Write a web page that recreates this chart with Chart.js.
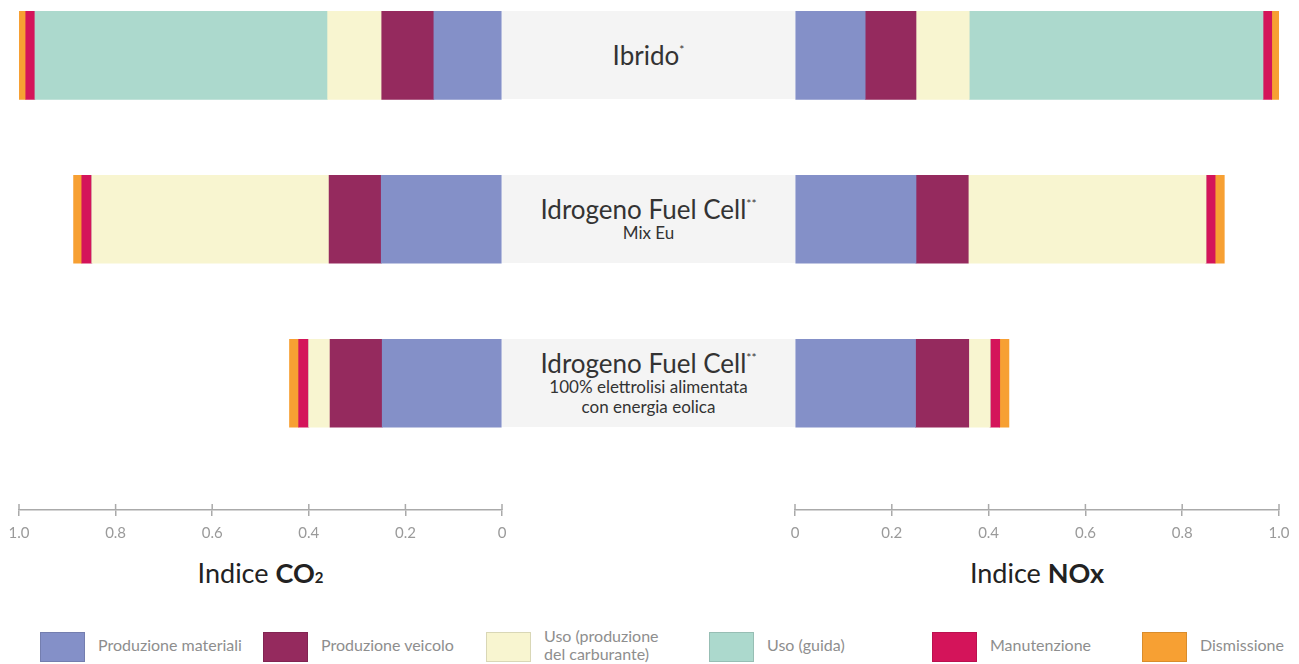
<!DOCTYPE html>
<html>
<head>
<meta charset="utf-8">
<script src="https://cdn.jsdelivr.net/npm/chart.js@4.4.0/dist/chart.umd.min.js"></script>
<style>
  body { margin: 0; width: 1299px; height: 664px; overflow: hidden; background: #fff; position: relative;
         font-family: Lato, 'Open Sans', sans-serif; }
  canvas { position: absolute; top: 0; }
  #co2 { left: 0; }
  #nox { left: 776px; }
  .box { position: absolute; left: 502px; width: 293px; height: 88px; background: #f4f4f4; color: #333;
         display: flex; flex-direction: column; justify-content: center; align-items: center; text-align: center; }
  .box .t { font-size: 26px; line-height: 28px; }
  .box .s { font-size: 17px; line-height: 20px; }
  .box sup { font-size: 12px; vertical-align: 11px; line-height: 0; }
  .axis-title { position: absolute; top: 557px; height: 32px; line-height: 32px; text-align: center;
                font-size: 27px; color: #222; }
  .axis-title b { font-weight: 700; }
  .axis-title .sub { font-size: 15px; font-weight: 700; }
  #legend { position: absolute; left: 40px; top: 632px; display: flex; }
  .item { width: 223px; height: 30px; display: flex; align-items: center; }
  .item:nth-child(5) { width: 210px; }
  .sw { width: 45px; height: 30px; box-sizing: border-box; border: 1px solid rgba(0,0,0,0.12); flex: none; }
  .lab { margin-left: 13px; font-size: 16px; line-height: 18px; color: #8e8e8e; white-space: pre-line;
         position: relative; top: -2px; }
</style>
</head>
<body>
<canvas id="co2" width="522" height="550"></canvas>
<canvas id="nox" width="523" height="550"></canvas>
<div class="axis-title" style="left:19px;width:483px">Indice <b>CO</b><span class="sub">2</span></div>
<div class="axis-title" style="left:795px;width:484px">Indice <b>NOx</b></div>
<div id="legend"></div>
<script>
const categories = ['Ibrido', 'Idrogeno Fuel Cell', 'Idrogeno Fuel Cell'];
const categoryMarks = ['*', '**', '**'];
const categoryNotes = [[], ['Mix Eu'], ['100% elettrolisi alimentata', 'con energia eolica']];

const phases = ['Produzione materiali', 'Produzione veicolo', 'Uso (produzione\ndel carburante)',
                'Uso (guida)', 'Manutenzione', 'Dismissione'];
const phaseColors = ['#8490c8', '#952a5e', '#f8f5d0', '#acd9cd', '#d4145a', '#f7a033'];

// indice CO2, one value per category
const co2Materiali    = [0.141, 0.250, 0.248];
const co2Veicolo      = [0.108, 0.108, 0.108];
const co2Carburante   = [0.112, 0.491, 0.044];
const co2Guida        = [0.606, 0, 0];
const co2Manutenzione = [0.019, 0.021, 0.021];
const co2Dismissione  = [0.014, 0.017, 0.019];

// indice NOx
const noxMateriali    = [0.145, 0.250, 0.249];
const noxVeicolo      = [0.105, 0.108, 0.110];
const noxCarburante   = [0.110, 0.491, 0.044];
const noxGuida        = [0.607, 0, 0];
const noxManutenzione = [0.018, 0.019, 0.020];
const noxDismissione  = [0.015, 0.019, 0.019];

const xTicks = [0, 0.2, 0.4, 0.6, 0.8, 1.0];

const BAR = 88;

// tick marks also above the axis line
const tickCross = {
  id: 'tickCross',
  afterDraw(chart) {
    const s = chart.scales.x, ctx = chart.ctx, y = chart.chartArea.bottom;
    ctx.save();
    ctx.strokeStyle = '#aaa';
    ctx.lineWidth = 1.5;
    s.ticks.forEach((t, i) => {
      const px = s.getPixelForTick(i);
      ctx.beginPath();
      ctx.moveTo(px, y - 6);
      ctx.lineTo(px, y);
      ctx.stroke();
    });
    ctx.restore();
  }
};

const makeChart = (id, series, reverse) => {
  const datasets = series.map((vals, k) => ({
    label: phases[k],
    data: vals.map((v, i) => ({ x: v, y: i })),
    backgroundColor: phaseColors[k],
    borderWidth: 0,
    barThickness: BAR
  }));
  return new Chart(document.getElementById(id), {
    type: 'bar',
    data: { datasets },
    options: {
      indexAxis: 'y',
      responsive: false,
      animation: false,
      layout: { padding: { left: 19, right: 20, top: 0, bottom: 0 } },
      plugins: { legend: { display: false }, tooltip: { enabled: false } },
      scales: {
        x: {
          stacked: true, reverse: reverse, min: 0, max: 1,
          afterBuildTicks: s => { s.ticks = xTicks.map(v => ({ value: v })); },
          ticks: {
            color: '#9a9a9a', padding: 8,
            font: { family: 'Lato', size: 15 },
            callback: v => v === 0 ? '0' : v.toFixed(1)
          },
          grid: { drawOnChartArea: false, drawTicks: true, tickLength: 6, color: '#aaa', lineWidth: 1.5 },
          border: { display: true, color: '#aaa', width: 1.5 }
        },
        y: { type: 'linear', stacked: true, reverse: true, display: false, offset: false,
             grid: { offset: false }, min: -0.3374, max: 2.773 }
      }
    },
    plugins: [tickCross]
  });
};

const co2Chart = makeChart('co2',
  [co2Materiali, co2Veicolo, co2Carburante, co2Guida, co2Manutenzione, co2Dismissione], true);
makeChart('nox',
  [noxMateriali, noxVeicolo, noxCarburante, noxGuida, noxManutenzione, noxDismissione], false);

// grey label boxes between the two charts, aligned with the bars
categories.forEach((name, i) => {
  const box = document.createElement('div');
  box.className = 'box';
  box.style.top = (co2Chart.scales.y.getPixelForValue(i) - BAR / 2) + 'px';
  const t = document.createElement('div');
  t.className = 't';
  t.innerHTML = name + '<sup>' + categoryMarks[i] + '</sup>';
  box.append(t);
  categoryNotes[i].forEach(line => {
    const s = document.createElement('div');
    s.className = 's';
    s.textContent = line;
    box.append(s);
  });
  document.body.append(box);
});

// legend
const legend = document.getElementById('legend');
phases.forEach((p, k) => {
  const item = document.createElement('div');
  item.className = 'item';
  item.innerHTML = '<div class="sw" style="background:' + phaseColors[k] + '"></div><div class="lab"></div>';
  item.querySelector('.lab').textContent = p;
  legend.append(item);
});
</script>
</body>
</html>
